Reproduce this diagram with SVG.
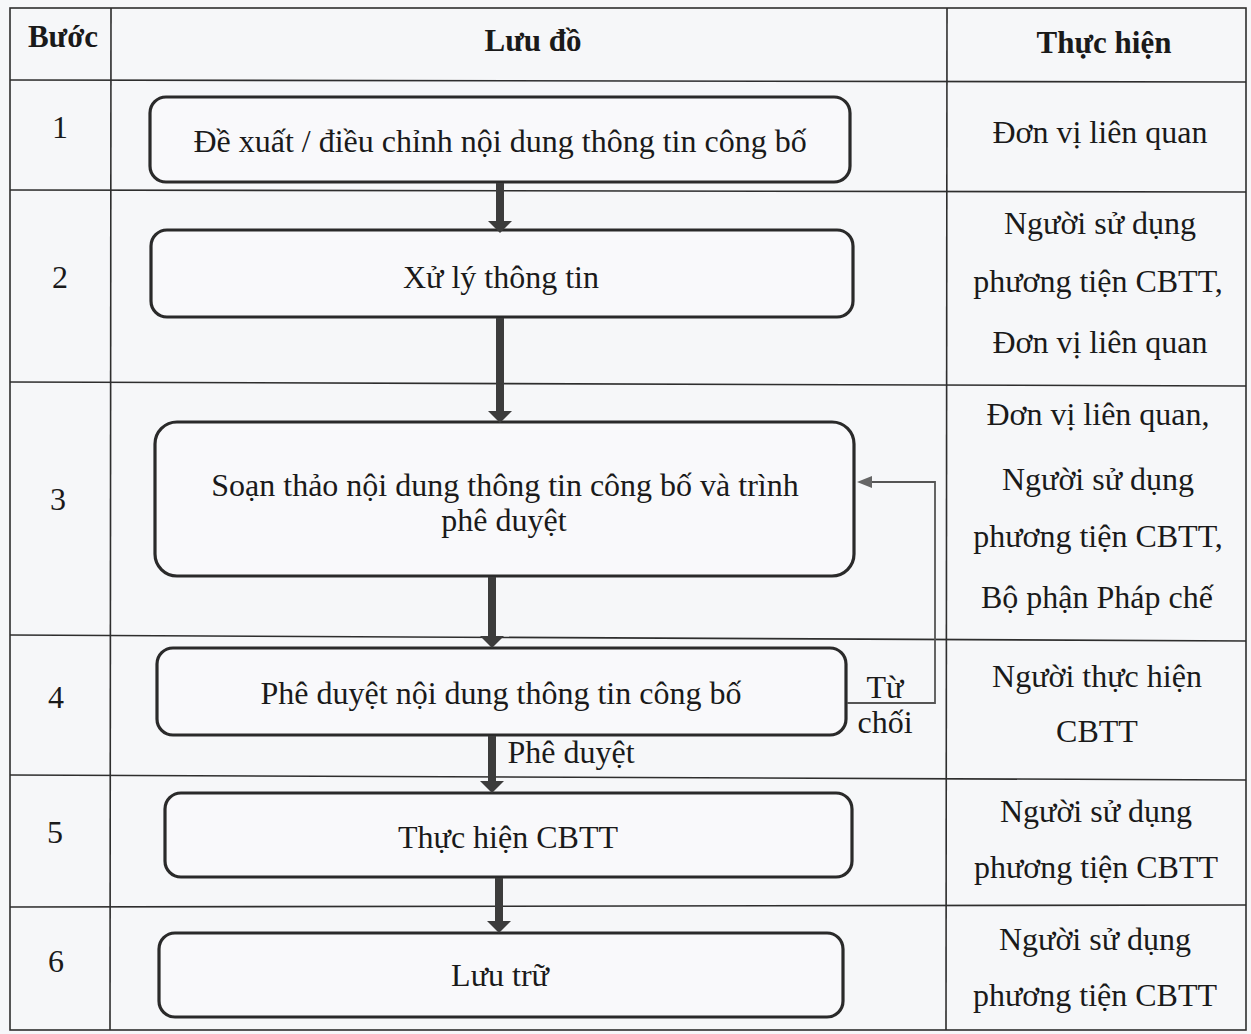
<svg xmlns="http://www.w3.org/2000/svg" width="1251" height="1034" viewBox="0 0 1251 1034">
<defs>
<style>
.bg{fill:#f6f7f9}
.grid{stroke:#2e2e2e;stroke-width:1.6;fill:none}
.box{fill:#f9f9fb;stroke:#2a2a2a;stroke-width:3.2}
.t{font-family:"Liberation Serif","Times New Roman",serif;font-size:32px;fill:#1a1a1a;text-anchor:middle}
.h{font-weight:bold;font-size:31px}
.shaft{stroke:#3c3c3c;stroke-width:8;fill:none}
.head{fill:#3c3c3c}
.fb{stroke:#555;stroke-width:1.8;fill:none}
.fbh{fill:#666}
</style>
</defs>
<rect class="bg" x="0" y="0" width="1251" height="1034"/>
<g id="table">
<rect class="grid" x="10" y="8" width="1236" height="1022"/>
<line class="grid" x1="111" y1="8" x2="110" y2="1030"/>
<line class="grid" x1="947" y1="8" x2="946" y2="1030"/>
<line class="grid" x1="10" y1="80" x2="1246" y2="82"/>
<line class="grid" x1="10" y1="190" x2="1246" y2="192"/>
<line class="grid" x1="10" y1="382" x2="1246" y2="386"/>
<line class="grid" x1="10" y1="635" x2="1246" y2="641"/>
<line class="grid" x1="10" y1="775" x2="1246" y2="780"/>
<line class="grid" x1="10" y1="907" x2="1246" y2="905"/>
</g>
<g id="header">
<text class="t h" x="63" y="47">Bước</text>
<text class="t h" x="533" y="51">Lưu đồ</text>
<text class="t h" x="1104" y="53">Thực hiện</text>
</g>
<g id="steps">
<text class="t" x="60" y="138">1</text>
<text class="t" x="60" y="288">2</text>
<text class="t" x="58" y="510">3</text>
<text class="t" x="56" y="708">4</text>
<text class="t" x="55" y="843">5</text>
<text class="t" x="56" y="972">6</text>
</g>
<g id="node1">
<rect class="box" x="150" y="97" width="700" height="85" rx="16"/>
<text class="t" x="500" y="152">Đề xuất / điều chỉnh nội dung thông tin công bố</text>
</g>
<g id="node2">
<rect class="box" x="151" y="230" width="702" height="87" rx="16"/>
<text class="t" x="501" y="288">Xử lý thông tin</text>
</g>
<g id="node3">
<rect class="box" x="155" y="422" width="699" height="154" rx="22"/>
<text class="t" x="505" y="496">Soạn thảo nội dung thông tin công bố và trình</text>
<text class="t" x="504" y="531">phê duyệt</text>
</g>
<g id="node4">
<rect class="box" x="157" y="648" width="689" height="87" rx="16"/>
<text class="t" x="501" y="704">Phê duyệt nội dung thông tin công bố</text>
</g>
<g id="node5">
<rect class="box" x="165" y="793" width="687" height="84" rx="16"/>
<text class="t" x="508" y="848">Thực hiện CBTT</text>
</g>
<g id="node6">
<rect class="box" x="159" y="933" width="684" height="84" rx="16"/>
<text class="t" x="500" y="986">Lưu trữ</text>
</g>
<g id="connectors">
<line class="shaft" x1="500" y1="183" x2="500" y2="222"/>
<path class="head" d="M488,221 L512,221 L500,233 Z"/>
<line class="shaft" x1="500" y1="318" x2="500" y2="412"/>
<path class="head" d="M488,411 L512,411 L500,423 Z"/>
<line class="shaft" x1="492" y1="577" x2="492" y2="637"/>
<path class="head" d="M480,636 L504,636 L492,648 Z"/>
<line class="shaft" x1="492" y1="736" x2="492" y2="782"/>
<path class="head" d="M480,781 L504,781 L492,793 Z"/>
<line class="shaft" x1="499" y1="878" x2="499" y2="922"/>
<path class="head" d="M487,921 L511,921 L499,933 Z"/>
<polyline class="fb" points="847,703 935,703 935,482 870,482"/>
<path class="fbh" d="M857,482 L872,476 L872,488 Z"/>
<text class="t" x="885" y="698">Từ</text>
<text class="t" x="885" y="733">chối</text>
<text class="t" x="571" y="763">Phê duyệt</text>
</g>
<g id="performers">
<text class="t" x="1100" y="143">Đơn vị liên quan</text>
<text class="t" x="1100" y="234">Người sử dụng</text>
<text class="t" x="1098" y="292">phương tiện CBTT,</text>
<text class="t" x="1100" y="353">Đơn vị liên quan</text>
<text class="t" x="1098" y="425">Đơn vị liên quan,</text>
<text class="t" x="1098" y="490">Người sử dụng</text>
<text class="t" x="1098" y="547">phương tiện CBTT,</text>
<text class="t" x="1097" y="608">Bộ phận Pháp chế</text>
<text class="t" x="1097" y="687">Người thực hiện</text>
<text class="t" x="1097" y="742">CBTT</text>
<text class="t" x="1096" y="822">Người sử dụng</text>
<text class="t" x="1096" y="878">phương tiện CBTT</text>
<text class="t" x="1095" y="950">Người sử dụng</text>
<text class="t" x="1095" y="1006">phương tiện CBTT</text>
</g>
</svg>
